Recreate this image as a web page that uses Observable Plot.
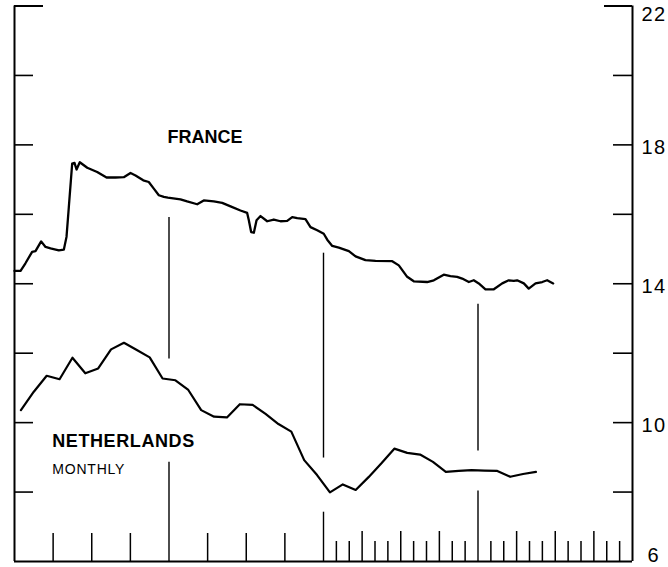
<!DOCTYPE html>
<html><head><meta charset="utf-8">
<script src="https://cdn.jsdelivr.net/npm/d3@7"></script>
<script src="https://cdn.jsdelivr.net/npm/@observablehq/plot@0.6"></script>
<style>body{margin:0;background:#fff} svg{display:block;background:#fff}</style>
</head><body><div id="chart"></div>
<script>
// France (month position, value)
const franceMonth = [0,0.47,0.85,1.37,1.63,2.07,2.41,2.80,3.44,3.83,4.04,4.22,4.48,4.66,4.82,5.07,5.65,6.42,7.15,7.84,8.49,9.01,9.40,10.0,10.43,10.82,11.21,11.60,11.91,12.89,13.41,14.19,14.70,15.48,16.13,16.78,17.55,18.07,18.20,18.38,18.59,18.80,19.11,19.63,20.14,20.66,21.18,21.57,21.96,22.60,22.99,23.51,24.02,24.29,24.68,25.19,25.97,26.49,27.26,28.04,29.34,29.85,30.50,31.01,32.05,32.57,33.34,33.86,34.38,34.77,35.29,35.67,36.06,36.58,37.23,37.88,38.39,38.78,39.04,39.56,39.94,40.47,40.99,41.37,41.84];
const franceValue = [14.37,14.37,14.59,14.92,14.94,15.22,15.06,15.02,14.96,14.98,15.35,16.21,17.46,17.48,17.29,17.50,17.34,17.22,17.06,17.06,17.07,17.19,17.12,16.98,16.93,16.74,16.55,16.50,16.48,16.43,16.37,16.29,16.40,16.37,16.33,16.23,16.11,16.04,15.83,15.49,15.47,15.83,15.95,15.80,15.85,15.80,15.81,15.92,15.89,15.86,15.63,15.54,15.44,15.27,15.09,15.04,14.94,14.79,14.68,14.66,14.65,14.53,14.20,14.07,14.05,14.10,14.26,14.22,14.20,14.15,14.05,14.10,14.01,13.84,13.84,14.01,14.10,14.08,14.10,14.01,13.86,14.01,14.05,14.10,14.01];
// Netherlands, monthly (one value per month, starting with month 1)
const netherlandsValue = [10.36,10.89,11.35,11.25,11.87,11.42,11.56,12.11,12.30,12.09,11.88,11.27,11.22,10.94,10.36,10.17,10.15,10.53,10.51,10.25,9.96,9.74,8.92,8.49,7.99,8.22,8.06,8.43,8.83,9.25,9.13,9.08,8.87,8.58,8.61,8.63,8.62,8.61,8.44,8.52,8.58];
// axis
const yTickValues = [20,18,16,14,12,10,8];
const yTopTick = [22];
const yLabelValues = [22,18,14,10,6];
const quarterTicksEarly = [3,6,9,15,18,21];
const quarterTicksLate = [27,30,33,39,42,45];
const monthTicksLate = [25,26,28,29,31,32,34,35,37,38,40,41,43,44,46,47];
const yearBreakX  = [12,12,24,24,36,36];
const yearBreakY1 = [11.83,6,8.98,6,9.18,6];
const yearBreakY2 = [15.91,8.86,14.88,7.42,13.41,8.03];
const labelText = ["FRANCE","NETHERLANDS","MONTHLY"];
const labelMonth = [11.88,2.93,2.93];
const labelValue = [18.21,9.45,8.65];

const france = franceMonth.map((m,i)=>({m, v: franceValue[i]}));
const nl = netherlandsValue.map((v,i)=>({m: i+0.5, v}));
const breaks = yearBreakX.map((x,i)=>({x, y1: yearBreakY1[i], y2: yearBreakY2[i]}));

const W = 668, H = 567, mL = 14, mR = 36, mT = 5.5, mB = 6;
const pxX = (48-0)/(W-mL-mR);      // months per pixel
const pxY = (22-6)/(H-mT-mB);      // value units per pixel
const font = "'Liberation Sans', Arial, Helvetica, sans-serif";
const labelStyle = {frameAnchor: "right", dx: 9, textAnchor: "start", fontSize: 20, fill: "#000"};

const chart = Plot.plot({
  width: W, height: H,
  marginLeft: mL, marginRight: mR, marginTop: mT, marginBottom: mB,
  x: {domain: [0,48], axis: null},
  y: {domain: [6,22], axis: null},
  style: {fontFamily: font, background: "#fff", color: "#000"},
  marks: [
    // frame: left, right, bottom
    Plot.ruleX([0,48], {y1: 6, y2: 22, stroke: "#000", strokeWidth: 2}),
    Plot.ruleY([6], {x1: 0, x2: 48, stroke: "#000", strokeWidth: 2}),
    // left ticks
    Plot.ruleY(yTickValues, {x1: 0, x2: 19*pxX, stroke: "#000", strokeWidth: 1.6}),
    Plot.ruleY(yTopTick, {x1: 0, x2: 29*pxX, stroke: "#000", strokeWidth: 2}),
    // right ticks
    Plot.ruleY(yTickValues, {x1: 48-19*pxX, x2: 48, stroke: "#000", strokeWidth: 1.6}),
    Plot.ruleY(yTopTick, {x1: 48-28*pxX, x2: 48, stroke: "#000", strokeWidth: 2}),
    // bottom ticks
    Plot.ruleX(quarterTicksEarly, {y1: 6, y2: 6 + 28*pxY, stroke: "#000", strokeWidth: 1.5}),
    Plot.ruleX(quarterTicksLate, {y1: 6, y2: 6 + 30*pxY, stroke: "#000", strokeWidth: 1.5}),
    Plot.ruleX(monthTicksLate, {y1: 6, y2: 6 + 20*pxY, stroke: "#000", strokeWidth: 1.5}),
    // year break rules
    Plot.ruleX(breaks, {x: "x", y1: "y1", y2: "y2", stroke: "#000", strokeWidth: 1.4}),
    // series
    Plot.line(france, {x: "m", y: "v", stroke: "#000", strokeWidth: 2.3, strokeLinejoin: "round", strokeLinecap: "round"}),
    Plot.line(nl, {x: "m", y: "v", stroke: "#000", strokeWidth: 2.2, strokeLinejoin: "round", strokeLinecap: "round"}),
    // right labels
    Plot.text(yLabelValues.filter(d=>d===22), {...labelStyle, y: d=>d, text: d=>String(d), lineAnchor: "top", dy: 1}),
    Plot.text(yLabelValues.filter(d=>d!==22 && d!==6), {...labelStyle, y: d=>d, text: d=>String(d), dy: 3}),
    Plot.text(yLabelValues.filter(d=>d===6), {...labelStyle, y: d=>d, text: d=>String(d), dx: 15, dy: 0, lineAnchor: "bottom"}),
    // series labels
    Plot.text([0], {x: labelMonth[0], y: labelValue[0], text: [labelText[0]], textAnchor: "start", fontSize: 18, fontWeight: "bold", fill: "#000"}),
    Plot.text([0], {x: labelMonth[1], y: labelValue[1], text: [labelText[1]], textAnchor: "start", fontSize: 18, fontWeight: "bold", fill: "#000"}),
    Plot.text([0], {x: labelMonth[2], y: labelValue[2], text: [labelText[2]], textAnchor: "start", fontSize: 14, fill: "#000"})
  ]
});
chart.querySelectorAll("text").forEach(t => {
  if (/NETHERLANDS/.test(t.textContent)) t.setAttribute("letter-spacing", "0.6");
  if (/MONTHLY/.test(t.textContent)) t.setAttribute("letter-spacing", "0.8");
  if (/^\d+$/.test(t.textContent) && t.textContent.length > 1) t.setAttribute("letter-spacing", "1.5");
});
document.getElementById("chart").appendChild(chart);
</script></body></html>
